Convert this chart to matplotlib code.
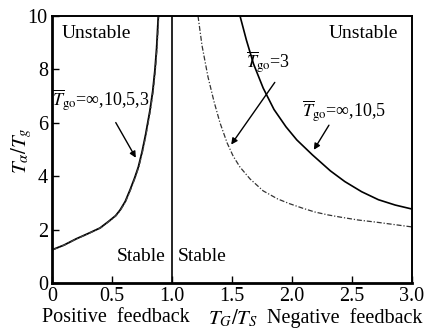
import matplotlib
matplotlib.use("Agg")
import matplotlib.pyplot as plt

plt.rcParams['font.family'] = ['Liberation Serif', 'DejaVu Serif']
plt.rcParams['mathtext.fontset'] = 'stix'

# positive feedback branch (all T_go overlap)
left_x = [0, 0.1, 0.2, 0.3, 0.4, 0.47, 0.53, 0.567, 0.61, 0.65, 0.69, 0.72, 0.75, 0.78, 0.817, 0.84, 0.858, 0.872, 0.886]
left_y = [1.24, 1.42, 1.65, 1.85, 2.06, 2.3, 2.52, 2.73, 3.05, 3.48, 3.95, 4.35, 4.9, 5.55, 6.48, 7.2, 7.98, 8.8, 10.0]

# negative feedback, T_go = inf, 10, 5
right_x = [1.567, 1.62, 1.68, 1.76, 1.85, 1.95, 2.04, 2.17, 2.32, 2.44, 2.58, 2.72, 2.86, 3.0]
right_y = [10.0, 9.1, 8.2, 7.3, 6.5, 5.85, 5.36, 4.8, 4.2, 3.8, 3.42, 3.12, 2.92, 2.77]

# negative feedback, T_go = 3
dd_x = [1.217, 1.25, 1.3, 1.35, 1.4, 1.46, 1.51, 1.567, 1.65, 1.76, 1.88, 1.98, 2.09, 2.19, 2.3,
        2.4, 2.55, 2.7, 2.85, 3.0]
dd_y = [10.0, 8.9, 7.72, 6.8, 6.0, 5.24, 4.75, 4.34, 3.9, 3.45, 3.15, 2.97, 2.8, 2.66, 2.55,
        2.47, 2.36, 2.28, 2.19, 2.1]

x_ticks = [0, 0.5, 1.0, 1.5, 2.0, 2.5, 3.0]
x_ticklabels = ['0', '0.5', '1.0', '1.5', '2.0', '2.5', '3.0']
y_ticks = [0, 2, 4, 6, 8, 10]

fig = plt.figure(figsize=(4.24, 3.34), dpi=100)
ax = fig.add_axes([0.1226, 0.1527, 0.8491, 0.7993])

dash = (0, (4, 1.5, 1, 1.5))
ax.plot(left_x, left_y, color='black', lw=1.3)
ax.plot([v + 0.004 for v in left_x], left_y, color='#444444', lw=0.9, ls=dash)
ax.plot(right_x, right_y, color='black', lw=1.2)
ax.plot(dd_x, dd_y, color='#333333', lw=0.9, ls=dash)
ax.axvline(1.0, color='black', lw=1.2)

ax.set_xlim(0, 3.0)
ax.set_ylim(0, 10)
ax.set_xticks(x_ticks)
ax.set_xticklabels(x_ticklabels)
ax.set_yticks(y_ticks)
ax.tick_params(direction='in', length=5, width=1, labelsize=14.5, pad=3)
for side in ['left', 'bottom']:
    ax.spines[side].set_linewidth(2.0)
for side in ['top', 'right']:
    ax.spines[side].set_linewidth(1.4)

fs = 14
ax.text(0.08, 9.35, 'Unstable', fontsize=fs, ha='left', va='center')
ax.text(2.88, 9.35, 'Unstable', fontsize=fs, ha='right', va='center')
ax.text(0.95, 1.0, 'Stable', fontsize=fs, ha='right', va='center')
ax.text(1.05, 1.0, 'Stable', fontsize=fs, ha='left', va='center')

arrow = dict(arrowstyle='-|>', color='black', lw=1.0, mutation_scale=9)
afs = 13
ax.text(0.0, 6.8, r'$\overline{T}_{\rm go}$=∞,10,5,3', fontsize=afs, ha='left', va='center')
ax.annotate('', xy=(0.71, 4.6), xytext=(0.52, 6.1), arrowprops=arrow)
ax.text(1.8, 8.25, r'$\overline{T}_{\rm go}$=3', fontsize=afs, ha='center', va='center')
ax.annotate('', xy=(1.48, 5.1), xytext=(1.87, 7.6), arrowprops=arrow)
ax.text(2.08, 6.4, r'$\overline{T}_{\rm go}$=∞,10,5', fontsize=afs, ha='left', va='center')
ax.annotate('', xy=(2.17, 4.9), xytext=(2.32, 6.0), arrowprops=arrow)

fig.text(0.05, 0.55, r'$\mathbf{\mathit{T_\alpha/T_g}}$', fontsize=15, rotation=90, ha='center', va='center')
fig.text(0.10, 0.048, 'Positive  feedback', fontsize=14.5, ha='left', va='center')
fig.text(0.55, 0.048, r'$T_G/T_S$', fontsize=15, ha='center', va='center')
fig.text(0.997, 0.048, 'Negative  feedback', fontsize=14.5, ha='right', va='center')

fig.savefig('out.png', dpi=100)
